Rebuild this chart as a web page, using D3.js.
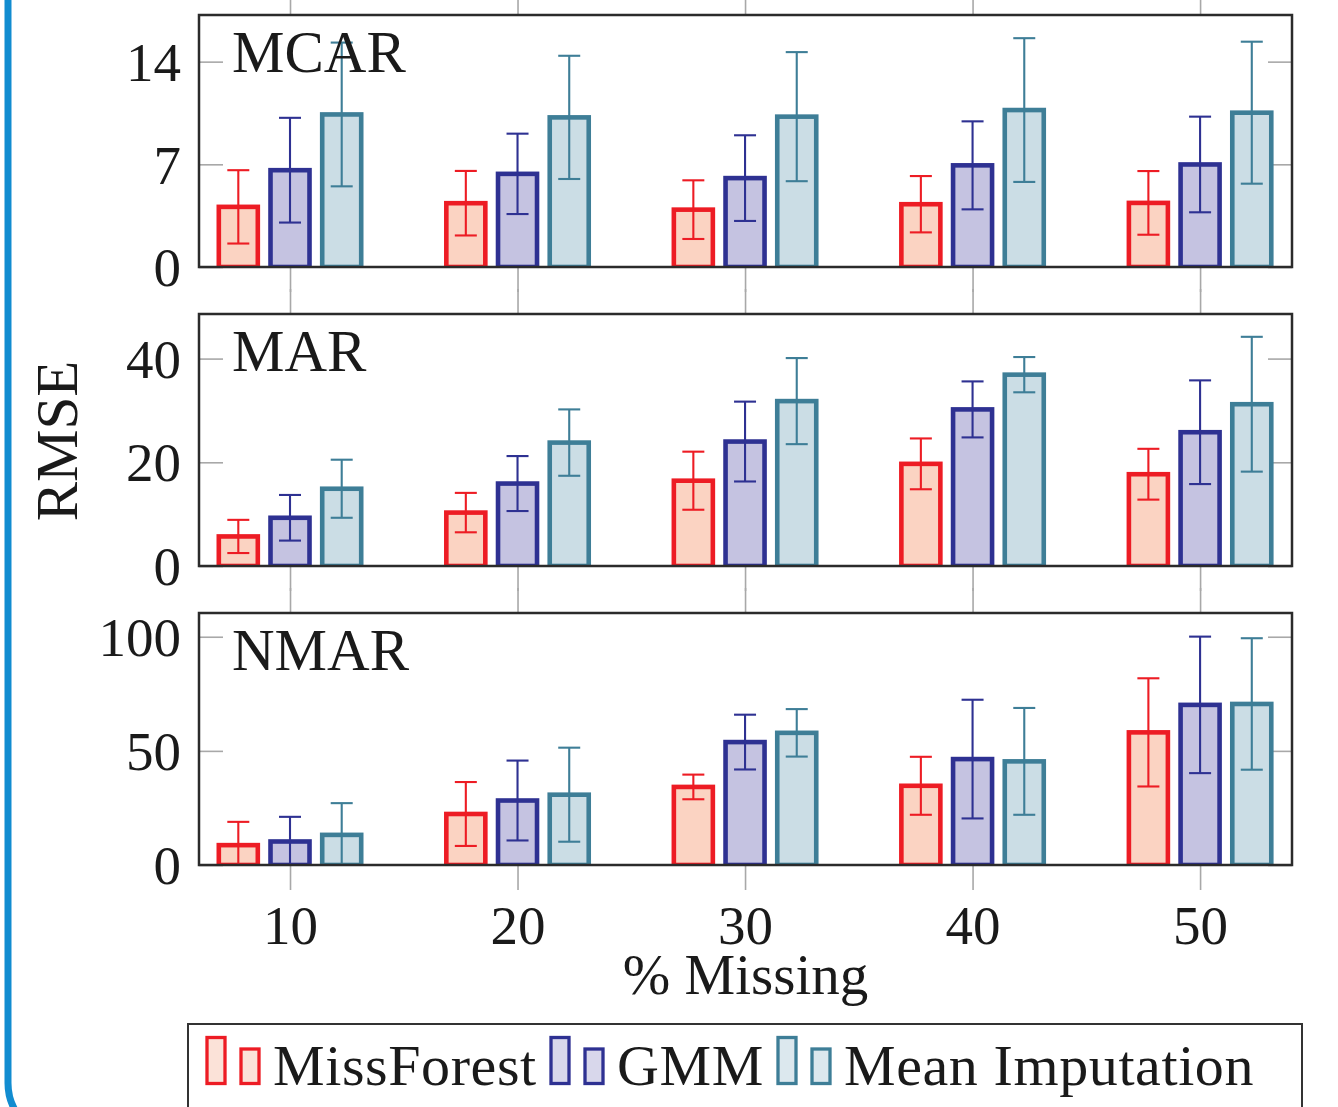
<!DOCTYPE html>
<html>
<head>
<meta charset="utf-8">
<script src="https://cdn.jsdelivr.net/npm/d3@7"></script>
<style>
  html, body { margin: 0; padding: 0; background: #ffffff; }
  svg { display: block; }
  text { font-family: "Liberation Serif", "DejaVu Serif", serif; fill: #1a1a1a; }
</style>
</head>
<body>
<svg id="chart" width="1338" height="1107"></svg>
<script>
// ---------------- data ----------------
const categories = [10, 20, 30, 40, 50];
const seriesNames = ["MissForest", "GMM", "Mean Imputation"];
const panelNames = ["MCAR", "MAR", "NMAR"];

// MCAR
const mcarMissForest = [4.1, 4.35, 3.91, 4.28, 4.37];
const mcarMissForestErr = [2.5, 2.2, 2.0, 1.92, 2.17];
const mcarGMM = [6.6, 6.35, 6.06, 6.93, 6.99];
const mcarGMMErr = [3.57, 2.74, 2.92, 3.0, 3.26];
const mcarMean = [10.4, 10.2, 10.25, 10.7, 10.52];
const mcarMeanErr = [4.9, 4.2, 4.4, 4.9, 4.84];

// MAR
const marMissForest = [5.7, 10.3, 16.45, 19.7, 17.7];
const marMissForestErr = [3.2, 3.8, 5.6, 4.9, 4.9];
const marGMM = [9.3, 15.9, 24.0, 30.2, 25.8];
const marGMMErr = [4.4, 5.3, 7.7, 5.4, 10.0];
const marMean = [14.9, 23.8, 31.8, 36.9, 31.2];
const marMeanErr = [5.6, 6.4, 8.3, 3.4, 13.0];

// NMAR
const nmarMissForest = [8.7, 22.35, 34.2, 34.7, 58.1];
const nmarMissForestErr = [10.2, 14.0, 5.4, 12.7, 23.7];
const nmarGMM = [10.3, 28.25, 53.85, 46.4, 70.15];
const nmarGMMErr = [10.8, 17.5, 12.0, 26.0, 29.9];
const nmarMean = [13.2, 30.8, 57.9, 45.4, 70.55];
const nmarMeanErr = [13.9, 20.6, 10.4, 23.4, 28.8];

const mcarTicks = [0, 7, 14];
const marTicks = [0, 20, 40];
const nmarTicks = [0, 50, 100];
const yMax = [17.18, 48.6, 110.4];
const xLabel = "% Missing";
const yLabel = "RMSE";

// ------------- styles -------------
const strokeColors = ["#ed1c24", "#2e3192", "#3e7e97"];
const fillColors = ["#fbd3c2", "#c5c3e1", "#cbdde5"];
const legendFills = ["#fbe2d8", "#d8d7eb", "#dce8ee"];

const panels = [
  { name: panelNames[0], ticks: mcarTicks, max: yMax[0],
    vals: [mcarMissForest, mcarGMM, mcarMean], errs: [mcarMissForestErr, mcarGMMErr, mcarMeanErr] },
  { name: panelNames[1], ticks: marTicks, max: yMax[1],
    vals: [marMissForest, marGMM, marMean], errs: [marMissForestErr, marGMMErr, marMeanErr] },
  { name: panelNames[2], ticks: nmarTicks, max: yMax[2],
    vals: [nmarMissForest, nmarGMM, nmarMean], errs: [nmarMissForestErr, nmarGMMErr, nmarMeanErr] }
];

const svg = d3.select("#chart");
const left = 199, right = 1292;
const panelTops = [15, 314, 613];
const panelH = 252;
const barW = 39;

// blue framing border (rounded rect edge)
svg.append("rect")
  .attr("x", 8).attr("y", -200)
  .attr("width", 2000).attr("height", 1338)
  .attr("rx", 55).attr("ry", 55)
  .attr("fill", "none").attr("stroke", "#128cd0").attr("stroke-width", 7);

const x = d3.scaleLinear().domain([6, 54.04]).range([left, right]);
const offset = d3.scalePoint().domain(seriesNames).range([-51.7, 51.7]);

panels.forEach((p, pi) => {
  const top = panelTops[pi], bottom = top + panelH;
  const y = d3.scaleLinear().domain([0, p.max]).range([bottom, top]);
  const g = svg.append("g");

  // x ticks outward (gray), above and below
  g.append("g").attr("transform", `translate(0,${top})`)
    .call(d3.axisTop(x).tickValues(categories).tickSize(25).tickFormat(""))
    .call(s => s.select(".domain").remove())
    .call(s => s.selectAll("line").attr("stroke", "#a8a8a8").attr("stroke-width", 1.6));
  g.append("g").attr("transform", `translate(0,${bottom})`)
    .call(d3.axisBottom(x).tickValues(categories).tickSize(25).tickFormat(""))
    .call(s => s.select(".domain").remove())
    .call(s => s.selectAll("line").attr("stroke", "#a8a8a8").attr("stroke-width", 1.6));

  // y ticks inward both sides
  g.append("g").attr("transform", `translate(${left},0)`)
    .call(d3.axisRight(y).tickValues(p.ticks).tickSize(24).tickFormat(""))
    .call(s => s.select(".domain").remove())
    .call(s => s.selectAll("line").attr("stroke", "#a8a8a8").attr("stroke-width", 1.6));
  g.append("g").attr("transform", `translate(${right},0)`)
    .call(d3.axisLeft(y).tickValues(p.ticks).tickSize(24).tickFormat(""))
    .call(s => s.select(".domain").remove())
    .call(s => s.selectAll("line").attr("stroke", "#a8a8a8").attr("stroke-width", 1.6));

  // y tick labels
  g.append("g").attr("transform", `translate(${left},0)`)
    .call(d3.axisLeft(y).tickValues(p.ticks).tickSize(0).tickPadding(18).tickFormat(d3.format("d")))
    .call(s => s.select(".domain").remove())
    .call(s => s.selectAll("text")
      .attr("font-family", '"Liberation Serif", serif')
      .attr("font-size", 55).attr("fill", "#1a1a1a").attr("dy", "0.34em"));

  // clip
  const clipId = "clip" + pi;
  svg.append("clipPath").attr("id", clipId)
    .append("rect").attr("x", left).attr("y", top).attr("width", right - left).attr("height", panelH);

  const plot = g.append("g").attr("clip-path", `url(#${clipId})`);

  seriesNames.forEach((sn, si) => {
    const sg = plot.append("g");
    sg.selectAll("rect.bar").data(categories).join("rect")
      .attr("class", "bar")
      .attr("x", (c) => x(c) + offset(sn) - barW / 2)
      .attr("width", barW)
      .attr("y", (c, i) => y(p.vals[si][i]))
      .attr("height", (c, i) => y(0) - y(p.vals[si][i]))
      .attr("fill", fillColors[si])
      .attr("stroke", strokeColors[si])
      .attr("stroke-width", 4.6);
    // error bars
    const eb = sg.selectAll("g.err").data(categories).join("g").attr("class", "err");
    eb.append("line")
      .attr("x1", c => x(c) + offset(sn)).attr("x2", c => x(c) + offset(sn))
      .attr("y1", (c, i) => y(p.vals[si][i] - p.errs[si][i]))
      .attr("y2", (c, i) => y(p.vals[si][i] + p.errs[si][i]))
      .attr("stroke", strokeColors[si]).attr("stroke-width", 2.1);
    [-1, 1].forEach(sgn => {
      eb.append("line")
        .attr("x1", c => x(c) + offset(sn) - 11).attr("x2", c => x(c) + offset(sn) + 11)
        .attr("y1", (c, i) => y(p.vals[si][i] + sgn * p.errs[si][i]))
        .attr("y2", (c, i) => y(p.vals[si][i] + sgn * p.errs[si][i]))
        .attr("stroke", strokeColors[si]).attr("stroke-width", 2.1);
    });
  });

  // frame
  g.append("rect").attr("x", left).attr("y", top).attr("width", right - left).attr("height", panelH)
    .attr("fill", "none").attr("stroke", "#2b2b2b").attr("stroke-width", 2.5);

  // panel label
  g.append("text").attr("x", 232).attr("y", top + 56.5)
    .attr("font-size", 59).text(p.name);
});

// x tick labels
svg.append("g").attr("transform", `translate(0,${panelTops[2] + panelH})`)
  .call(d3.axisBottom(x).tickValues(categories).tickSize(0).tickPadding(0).tickFormat(d3.format("d")))
  .call(s => s.select(".domain").remove())
  .call(s => s.selectAll("text")
    .attr("font-family", '"Liberation Serif", serif')
    .attr("font-size", 55).attr("fill", "#1a1a1a")
    .attr("dy", null).attr("y", 79));

// axis labels
svg.append("text").attr("x", (left + right) / 2).attr("y", 994)
  .attr("text-anchor", "middle").attr("font-size", 57).text(xLabel);
svg.append("text").attr("transform", "translate(77,441) rotate(-90)")
  .attr("text-anchor", "middle").attr("font-size", 59).text(yLabel);

// legend
const lg = svg.append("g");
lg.append("rect").attr("x", 188).attr("y", 1024).attr("width", 1114).attr("height", 120)
  .attr("fill", "#ffffff").attr("stroke", "#333333").attr("stroke-width", 2);
const legendX = [207, 551, 778];
seriesNames.forEach((sn, si) => {
  const lx = legendX[si];
  lg.append("rect").attr("x", lx).attr("y", 1037.5).attr("width", 18).attr("height", 46)
    .attr("fill", legendFills[si]).attr("stroke", strokeColors[si]).attr("stroke-width", 3.3);
  lg.append("rect").attr("x", lx + 34).attr("y", 1049).attr("width", 18).attr("height", 34.5)
    .attr("fill", legendFills[si]).attr("stroke", strokeColors[si]).attr("stroke-width", 3.3);
  lg.append("text").attr("x", lx + 66).attr("y", 1085).attr("font-size", 58)
    .attr("letter-spacing", "0.6px").text(sn);
});
</script>
</body>
</html>
